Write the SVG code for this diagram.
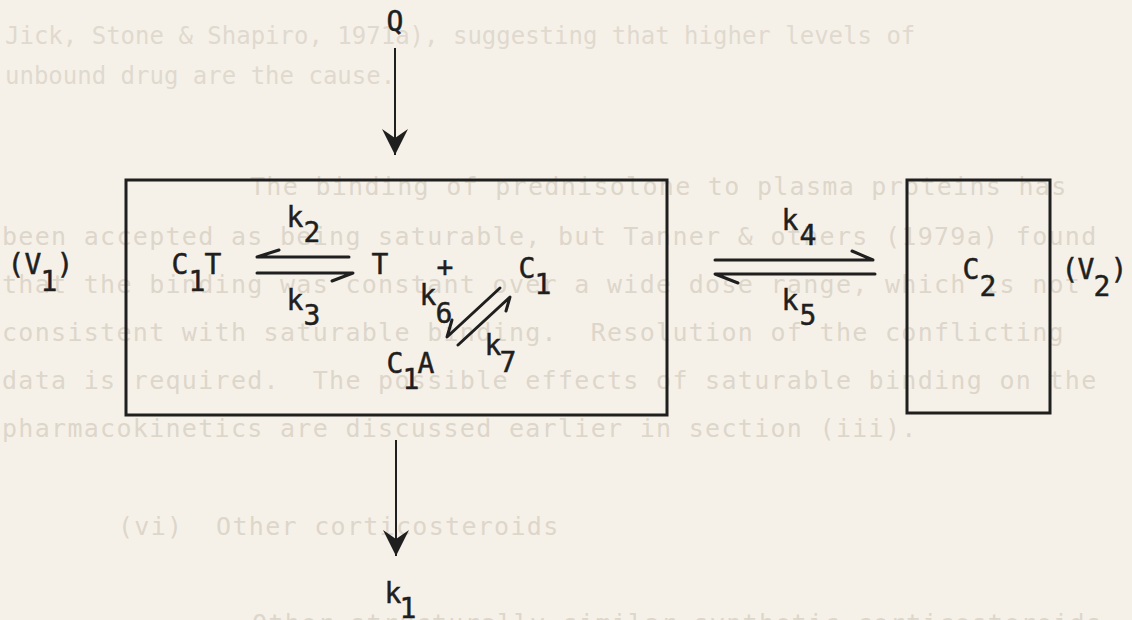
<svg xmlns="http://www.w3.org/2000/svg" width="1132" height="620" viewBox="0 0 1132 620">
  <style>
    .ghost { font-family: "DejaVu Sans Mono", "Liberation Mono", monospace; font-size: 25px; fill: #ddd6cb; letter-spacing: 1.3px; white-space: pre; }
    .ghost-s { font-family: "DejaVu Sans Mono", "Liberation Mono", monospace; font-size: 24px; fill: #e0d9cf; }
    .t { font-family: "DejaVu Sans Mono", "Liberation Mono", monospace; font-size: 28px; fill: #1f1f1f; stroke: #1f1f1f; stroke-width: 0.5; text-anchor: middle; }
    .box { fill: none; stroke: #1f1f1f; stroke-width: 3; }
    .ln { fill: none; stroke: #1f1f1f; stroke-width: 3; stroke-linecap: round; stroke-linejoin: round; }
    .thin { fill: none; stroke: #1f1f1f; stroke-width: 2; }
  </style>
  <defs>
    <marker id="dart" viewBox="0 0 26 26" refX="26" refY="13" markerWidth="26" markerHeight="26" markerUnits="userSpaceOnUse" orient="auto">
      <path d="M0,0 L26,13 L0,26 L9,13 Z" fill="#1f1f1f"/>
    </marker>
  </defs>
  <rect x="0" y="0" width="1132" height="620" fill="#f6f1e8"/>

  <g id="bleed-through">
    <text class="ghost-s" x="5" y="44">Jick, Stone &amp; Shapiro, 1971a), suggesting that higher levels of</text>
    <text class="ghost-s" x="5" y="84">unbound drug are the cause.</text>
    <text class="ghost" x="250" y="195">The binding of prednisolone to plasma proteins has</text>
    <text class="ghost" x="2" y="245">been accepted as being saturable, but Tanner &amp; others (1979a) found</text>
    <text class="ghost" x="2" y="293">that the binding was constant over a wide dose range, which is not</text>
    <text class="ghost" x="2" y="341" xml:space="preserve">consistent with saturable binding.  Resolution of the conflicting</text>
    <text class="ghost" x="2" y="389" xml:space="preserve">data is required.  The possible effects of saturable binding on the</text>
    <text class="ghost" x="2" y="437">pharmacokinetics are discussed earlier in section (iii).</text>
    <text class="ghost" x="118" y="535" xml:space="preserve">(vi)  Other corticosteroids</text>
    <text class="ghost" x="252" y="632">Other structurally similar synthetic corticosteroids</text>
  </g>

  <g id="node-Q">
    <text class="t" x="395" y="31">Q</text>
  </g>

  <g id="node-compartment1">
    <rect class="box" x="126" y="180" width="541" height="235"/>
    <text class="t" y="274"><tspan x="16">(</tspan><tspan x="33">V</tspan><tspan x="49" dy="17">1</tspan><tspan x="65" dy="-17">)</tspan></text>
  </g>

  <g id="node-C1T">
    <text class="t" y="274"><tspan x="180">C</tspan><tspan x="197" dy="17">1</tspan><tspan x="213" dy="-17">T</tspan></text>
  </g>

  <g id="node-T">
    <text class="t" x="380" y="274">T</text>
    <text class="t" x="445" y="277">+</text>
  </g>

  <g id="node-C1">
    <text class="t" y="278"><tspan x="527">C</tspan><tspan x="543" dy="16">1</tspan></text>
  </g>

  <g id="node-C1A">
    <text class="t" y="373"><tspan x="395">C</tspan><tspan x="411" dy="16">1</tspan><tspan x="426" dy="-16">A</tspan></text>
  </g>

  <g id="node-compartment2">
    <rect class="box" x="907" y="180" width="143" height="233"/>
    <text class="t" y="279"><tspan x="971">C</tspan><tspan x="988" dy="17">2</tspan></text>
    <text class="t" y="279"><tspan x="1070">(</tspan><tspan x="1086">V</tspan><tspan x="1102" dy="17">2</tspan><tspan x="1119" dy="-17">)</tspan></text>
  </g>

  <g id="node-k1">
    <text class="t" y="603"><tspan x="393">k</tspan><tspan x="408" dy="15">1</tspan></text>
  </g>

  <g id="connectors">
    <line class="thin" x1="395" y1="48" x2="395" y2="155" marker-end="url(#dart)"/>
    <line class="thin" x1="396" y1="440" x2="396" y2="556" marker-end="url(#dart)"/>

    <path class="ln" d="M349,257 L257,257 L279,250"/>
    <path class="ln" d="M257,273 L353,273 L332,281"/>

    <path class="ln" d="M715,260 L873,260 L852,251"/>
    <path class="ln" d="M875,274 L715,274 L738,283"/>

    <path class="ln" d="M500,288 L447,337 L452,320"/>
    <path class="ln" d="M458,345 L510,297 L506,311"/>
  </g>

  <g id="rate-labels">
    <text class="t" y="227"><tspan x="295">k</tspan><tspan x="312" dy="15">2</tspan></text>
    <text class="t" y="310"><tspan x="295">k</tspan><tspan x="312" dy="15">3</tspan></text>
    <text class="t" y="230"><tspan x="790">k</tspan><tspan x="808" dy="15">4</tspan></text>
    <text class="t" y="310"><tspan x="790">k</tspan><tspan x="808" dy="15">5</tspan></text>
    <text class="t" y="305"><tspan x="428">k</tspan><tspan x="444" dy="18">6</tspan></text>
    <text class="t" y="355"><tspan x="493">k</tspan><tspan x="508" dy="17">7</tspan></text>
  </g>
</svg>
